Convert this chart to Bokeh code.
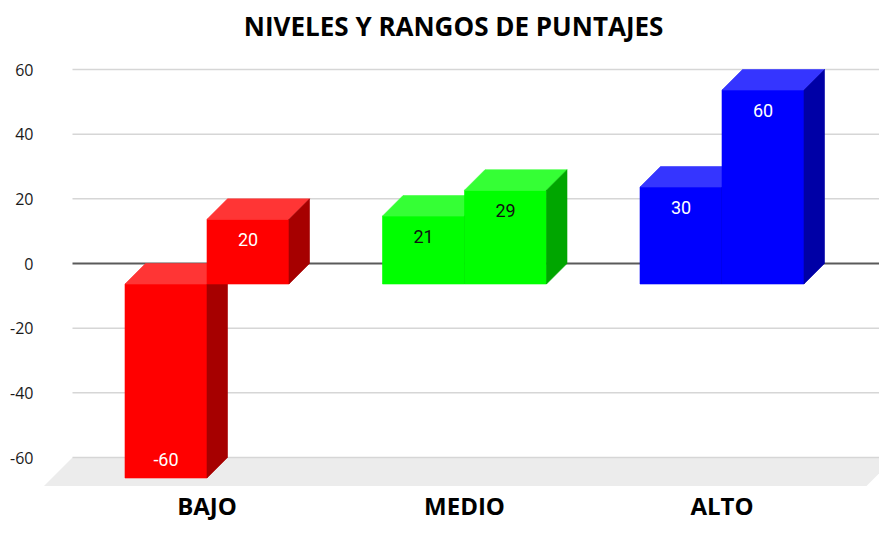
from bokeh.plotting import figure
from bokeh.models import Range1d, FixedTicker, ColumnDataSource
from bokeh.core.properties import value
from bokeh.embed import file_html
from bokeh.resources import INLINE

# ---------------- data ----------------
categories = ["BAJO", "MEDIO", "ALTO"]
serie_1 = [-60, 21, 30]
serie_2 = [20, 29, 60]
y_ticks = [-60, -40, -20, 0, 20, 40, 60]
title_text = "NIVELES  Y RANGOS DE PUNTAJES"

# ---------------- styles ----------------
front_colors = ["#ff0000", "#00ff00", "#0000ff"]
top_colors = ["#ff3535", "#35ff35", "#3535ff"]
side_colors = ["#a60000", "#00a600", "#0000a6"]
label_colors = ["#ffffff", "#111111", "#ffffff"]

# ---------------- layout (pixels) ----------------
W, H = 879, 524
B_LEFT = 40
frame_w = W - B_LEFT
frame_h = H
PX_X = 257.5            # pixels per category
PX_Y = 388.0 / 120.0    # pixels per value unit
ZERO_PX = 263.0         # pixel row of value 0
CAT0_PX = 206.5         # pixel column of first category centre

x_start = -(CAT0_PX - B_LEFT) / PX_X
x_end = x_start + frame_w / PX_X
y_end = ZERO_PX / PX_Y
y_start = y_end - frame_h / PX_Y

BW = 82.0 / PX_X       # bar width
DX = 20.5 / PX_X       # bar depth x
DY = 20.5 / PX_Y       # bar depth y
FX = 28.5 / PX_X       # floor depth x
FY = 28.5 / PX_Y       # floor depth y
WALL_L = x_start + 32.0 / PX_X
FLOOR_FRONT_R = (866 - CAT0_PX) / PX_X
LABEL_IN = 20.0 / PX_Y

p = figure(width=W, height=H,
           x_range=Range1d(x_start, x_end), y_range=Range1d(y_start, y_end),
           output_backend="svg", toolbar_location=None, x_axis_location=None,
           min_border_left=B_LEFT, min_border_right=0,
           min_border_top=0, min_border_bottom=0)
p.outline_line_color = None
p.xgrid.visible = False
p.ygrid.visible = False
p.background_fill_color = "white"
p.border_fill_color = "white"

# y axis
ax = p.yaxis[0]
ax.ticker = FixedTicker(ticks=y_ticks)
ax.major_label_overrides = {t: str(t) for t in y_ticks}
ax.axis_line_color = None
ax.major_tick_line_color = None
ax.minor_tick_line_color = None
ax.major_tick_out = 0
ax.major_tick_in = 0
ax.minor_tick_out = 0
ax.minor_tick_in = 0
ax.major_label_standoff = 7
ax.major_label_text_font = "Open Sans"
ax.major_label_text_font_size = "16px"
ax.major_label_text_color = "#1a1a1a"

# floor
fmin = min(y_ticks)
p.patch(x=[WALL_L - FX, FLOOR_FRONT_R, FLOOR_FRONT_R + FX, WALL_L],
        y=[fmin - FY, fmin - FY, fmin, fmin],
        fill_color="#ececec", line_color=None)

# gridlines
gt = [t for t in y_ticks if t != 0]
p.segment(x0=[WALL_L] * len(gt), x1=[x_end + 1] * len(gt), y0=gt, y1=gt,
          line_color="#d6d6d6", line_width=1.5)
p.segment(x0=[WALL_L], x1=[x_end + 1], y0=[0], y1=[0],
          line_color="#5a5a5a", line_width=2)

# 3D bars
xs, ys, fills = [], [], []
lx, ly, lt, lc = [], [], [], []
for i, cat in enumerate(categories):
    for j, v in enumerate([serie_1[i], serie_2[i]]):
        x0 = i - BW + j * BW
        x1 = x0 + BW
        lo, hi = min(0, v), max(0, v)
        # front
        xs.append([x0, x1, x1, x0]); ys.append([lo - DY, lo - DY, hi - DY, hi - DY]); fills.append(front_colors[i])
        # top
        xs.append([x0, x1, x1 + DX, x0 + DX]); ys.append([hi - DY, hi - DY, hi, hi]); fills.append(top_colors[i])
        # side
        xs.append([x1, x1 + DX, x1 + DX, x1]); ys.append([lo - DY, lo, hi, hi - DY]); fills.append(side_colors[i])
        lx.append((x0 + x1) / 2)
        ly.append(v - DY - LABEL_IN if v >= 0 else v - DY + LABEL_IN * 0.95)
        lt.append(str(v))
        lc.append(label_colors[i])

p.patches(xs=xs, ys=ys, fill_color=fills, line_color=fills, line_width=0.6)

lsrc = ColumnDataSource(dict(x=lx, y=ly, text=lt, color=lc))
p.text(x="x", y="y", text="text", source=lsrc, text_color="color",
       text_align="center", text_baseline="middle",
       text_font=value("Roboto"), text_font_size="18px")

# category labels
cat_y = (ZERO_PX - 505) / PX_Y
p.text(x=list(range(len(categories))), y=[cat_y] * len(categories), text=categories,
       text_align="center", text_baseline="middle",
       text_font=value("Open Sans"), text_font_style="bold", text_font_size="24px",
       text_color="#000000")

# title
title_x = (456.5 - CAT0_PX) / PX_X
title_y = (ZERO_PX - 25.0) / PX_Y
p.text(x=[title_x], y=[title_y], text=[title_text],
       text_align="center", text_baseline="middle",
       text_font=value("Open Sans"), text_font_style="bold", text_font_size="26px",
       text_color="#000000")

open("out.html", "w").write(file_html(p, INLINE))
